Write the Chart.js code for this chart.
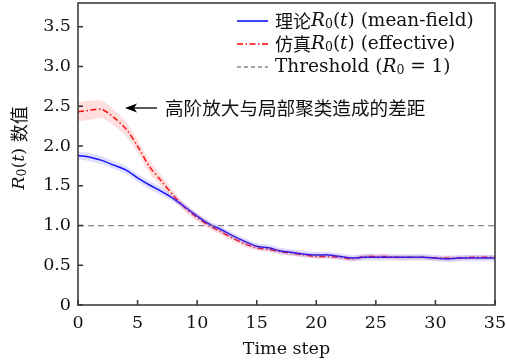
<!DOCTYPE html>
<html lang="zh">
<head>
  <meta charset="UTF-8">
  <title>R0(t) 数值</title>
  <script src="https://cdn.jsdelivr.net/npm/chart.js"></script>
  <style>
    body { margin: 0; background: #fff; }
    .wrap { width: 506px; height: 364px; position: relative; }
  </style>
</head>
<body>
  <div class="wrap"><canvas id="chart"></canvas></div>

  <script>
    // time steps 0..35
    const steps = [0,1,2,3,4,5,6,7,8,9,10,11,12,13,14,15,16,17,18,19,20,21,22,23,24,25,26,27,28,29,30,31,32,33,34,35];

    // theory (mean-field) R0(t)
    const theoryR0 = [1.88,1.86,1.82,1.76,1.70,1.60,1.51,1.43,1.34,1.23,1.12,1.02,0.95,0.87,0.80,0.74,0.72,0.68,0.66,0.64,
                      0.63,0.63,0.61,0.59,0.60,0.60,0.60,0.60,0.60,0.60,0.59,0.58,0.59,0.59,0.59,0.59];
    const theorySpread = [0.05,0.05,0.05,0.05,0.05,0.05,0.05,0.05,0.04,0.04,0.04,0.04,0.04,0.04,0.04,0.04,0.04,0.04,0.04,0.04,
                          0.04,0.04,0.04,0.04,0.04,0.04,0.04,0.04,0.04,0.04,0.04,0.04,0.04,0.04,0.04,0.04];

    // simulated (effective) R0(t)
    const simR0 = [2.43,2.45,2.46,2.36,2.22,2.00,1.74,1.56,1.38,1.22,1.10,1.00,0.92,0.84,0.77,0.72,0.70,0.67,0.65,0.63,
                   0.61,0.61,0.60,0.58,0.61,0.61,0.61,0.60,0.60,0.60,0.59,0.59,0.59,0.60,0.60,0.60];
    const simSpread = [0.12,0.12,0.11,0.10,0.09,0.08,0.08,0.07,0.06,0.05,0.05,0.04,0.04,0.04,0.04,0.03,0.03,0.03,0.03,0.03,
                       0.03,0.03,0.03,0.03,0.03,0.03,0.03,0.03,0.03,0.03,0.03,0.03,0.03,0.03,0.03,0.03];

    const threshold = 1;
    const xTicks = [0,5,10,15,20,25,30,35];
    const yTicks = [0,0.5,1.0,1.5,2.0,2.5,3.0,3.5];

    const pts = (ys) => steps.map((x, i) => ({ x: x, y: ys[i] }));
    const band = (ys, sp, s) => steps.map((x, i) => ({ x: x, y: ys[i] + s * sp[i] }));

    const SERIF = '"DejaVu Serif", "Liberation Serif", serif';
    const CJK = '"Noto Sans CJK SC", sans-serif';
    const FS = 17.5;
    const LFS = 18.5;

    function drawRich(ctx, x, y, parts) {
      let cx = x;
      parts.forEach(p => {
        ctx.font = p.f;
        ctx.fillText(p.t, cx, y + (p.dy || 0));
        cx += ctx.measureText(p.t).width;
      });
      return cx - x;
    }
    function richWidth(ctx, parts) {
      let w = 0;
      parts.forEach(p => { ctx.font = p.f; w += ctx.measureText(p.t).width; });
      return w;
    }
    const rm = (t, s) => ({ t: t, f: (s || FS) + 'px ' + SERIF });
    const it = (t, s) => ({ t: t, f: 'italic ' + (s || FS) + 'px ' + SERIF });
    const sub = (t) => ({ t: t, f: '12.5px ' + SERIF, dy: 4 });
    const zh = (t, s) => ({ t: t, f: (s || 18) + 'px ' + CJK });

    const decor = {
      id: 'decor',
      afterDraw(chart) {
        const ctx = chart.ctx;
        const a = chart.chartArea;
        const xs = chart.scales.x, ys = chart.scales.y;
        ctx.save();

        // frame + inward ticks
        ctx.strokeStyle = '#333';
        ctx.lineWidth = 1.5;
        ctx.strokeRect(a.left, a.top, a.right - a.left, a.bottom - a.top);
        ctx.beginPath();
        xTicks.forEach(v => {
          const px = xs.getPixelForValue(v);
          ctx.moveTo(px, a.bottom); ctx.lineTo(px, a.bottom - 5);
        });
        yTicks.forEach(v => {
          const py = ys.getPixelForValue(v);
          ctx.moveTo(a.left, py); ctx.lineTo(a.left + 5, py);
        });
        ctx.stroke();

        ctx.fillStyle = '#111';
        ctx.textBaseline = 'middle';
        ctx.textAlign = 'left';

        // x title
        ctx.font = FS + 'px ' + SERIF;
        ctx.textAlign = 'center';
        ctx.fillText('Time step', (a.left + a.right) / 2, 349);
        ctx.textAlign = 'left';

        // y title (rotated)
        const yParts = [it('R'), sub('0'), rm('('), it('t'), rm(') '), zh('数值')];
        ctx.translate(19, 148);
        ctx.rotate(-Math.PI / 2);
        drawRich(ctx, -richWidth(ctx, yParts) / 2, 0, yParts);
        ctx.setTransform(1, 0, 0, 1, 0, 0);

        // legend
        const lx0 = 237, lx1 = 268, tx = 275;
        const rows = [
          { y: 21, color: '#0000ff', dash: [], parts: [zh('理论'), it('R', LFS), sub('0'), rm('(', LFS), it('t', LFS), rm(')', LFS), rm(' (mean-field)', LFS)] },
          { y: 44, color: '#ff0000', dash: [6, 2.5, 1.5, 2.5], parts: [zh('仿真'), it('R', LFS), sub('0'), rm('(', LFS), it('t', LFS), rm(')', LFS), rm(' (effective)', LFS)] },
          { y: 67, color: '#888', dash: [4, 3], parts: [rm('Threshold (', LFS), it('R', LFS), sub('0'), rm(' = 1)', LFS)] }
        ];
        rows.forEach(r => {
          ctx.strokeStyle = r.color;
          ctx.lineWidth = 1.5;
          ctx.setLineDash(r.dash);
          ctx.beginPath();
          ctx.moveTo(lx0, r.y); ctx.lineTo(lx1, r.y);
          ctx.stroke();
          ctx.setLineDash([]);
          drawRich(ctx, tx, r.y, r.parts);
        });

        // annotation arrow + text
        ctx.strokeStyle = '#000';
        ctx.fillStyle = '#000';
        ctx.lineWidth = 1.3;
        ctx.beginPath();
        ctx.moveTo(157, 108); ctx.lineTo(132, 108);
        ctx.stroke();
        ctx.beginPath();
        ctx.moveTo(125, 108); ctx.lineTo(137, 103.5); ctx.lineTo(134, 108); ctx.lineTo(137, 112.5);
        ctx.closePath();
        ctx.fill();
        ctx.fillStyle = '#111';
        drawRich(ctx, 165, 108, [zh('高阶放大与局部聚类造成的差距', 18.6)]);

        ctx.restore();
      }
    };

    new Chart(document.getElementById('chart'), {
      type: 'line',
      data: {
        datasets: [
          { data: band(theoryR0, theorySpread, 1), borderWidth: 0, pointRadius: 0, fill: '+1', backgroundColor: 'rgba(90,90,255,0.2)', tension: 0.3 },
          { data: band(theoryR0, theorySpread, -1), borderWidth: 0, pointRadius: 0, fill: false, tension: 0.3 },
          { data: band(simR0, simSpread, 1), borderWidth: 0, pointRadius: 0, fill: '+1', backgroundColor: 'rgba(255,70,70,0.18)', tension: 0.3 },
          { data: band(simR0, simSpread, -1), borderWidth: 0, pointRadius: 0, fill: false, tension: 0.3 },
          { data: [{ x: 0, y: threshold }, { x: 35, y: threshold }], borderColor: '#888', borderWidth: 1.3, borderDash: [6, 4], pointRadius: 0, fill: false },
          { data: pts(theoryR0), borderColor: '#0000ff', borderWidth: 1.5, pointRadius: 0, fill: false, tension: 0.3 },
          { data: pts(simR0), borderColor: '#ff0000', borderWidth: 1.5, borderDash: [6, 2.5, 1.5, 2.5], pointRadius: 0, fill: false, tension: 0.3 }
        ]
      },
      options: {
        responsive: true,
        maintainAspectRatio: false,
        animation: false,
        layout: { padding: { top: 3, right: 11, left: 0, bottom: 0 } },
        plugins: { legend: { display: false }, tooltip: { enabled: false } },
        scales: {
          x: {
            type: 'linear', min: 0, max: 35,
            grid: { display: false, drawTicks: false },
            border: { display: false },
            afterBuildTicks: s => { s.ticks = xTicks.map(v => ({ value: v })); },
            afterFit: s => { s.height = 59; s.paddingLeft = 0; s.paddingRight = 0; },
            ticks: { padding: 8, color: '#111', font: { family: SERIF, size: FS }, maxRotation: 0 }
          },
          y: {
            min: 0, max: 3.8,
            grid: { display: false, drawTicks: false },
            border: { display: false },
            afterBuildTicks: s => { s.ticks = yTicks.map(v => ({ value: v })); },
            afterFit: s => { s.width = 78; s.paddingTop = 0; s.paddingBottom = 0; },
            ticks: { padding: 7, color: '#111', font: { family: SERIF, size: FS },
                     callback: v => v === 0 ? '0' : v.toFixed(1) }
          }
        }
      },
      plugins: [decor]
    });
  </script>
</body>
</html>
